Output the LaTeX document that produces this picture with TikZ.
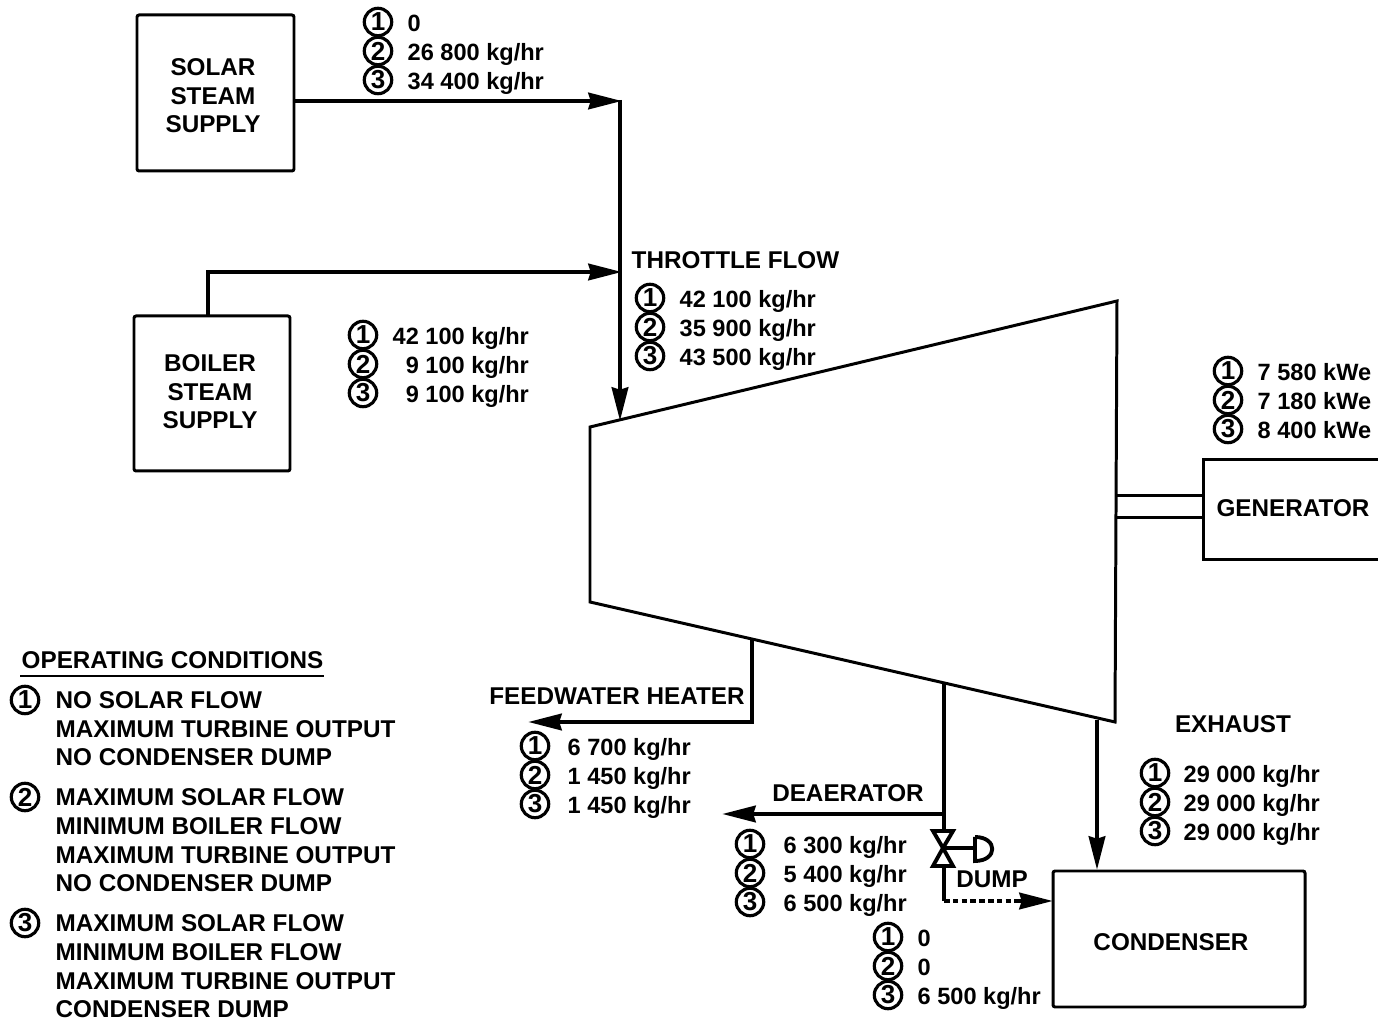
\documentclass[tikz,border=0pt]{standalone}
\usepackage{fontspec}
\setmainfont{Liberation Sans}
\usetikzlibrary{arrows.meta, positioning}
\tikzset{
  lbl/.style={font=\fontsize{6.9}{8.1}\selectfont\bfseries, inner sep=0pt},
  flowtxt/.style={font=\fontsize{6.7}{8}\selectfont\bfseries, inner sep=0pt, anchor=base west},
  numcirc/.style={draw, circle, line width=0.9pt, minimum size=7.8pt, inner sep=0pt, font=\fontsize{7.4}{8}\selectfont\bfseries},
  unitbox/.style={draw, line width=0.85pt, rounded corners=0.6pt},
  pipe/.style={line width=1.35pt},
  flowarrow/.style={pipe, -{Stealth[length=9.5pt, width=4.6pt, inset=0.6pt]}},
  thin line/.style={line width=0.85pt}
}
% one set of three numbered flow values, 29 units apart
\newcommand{\flowrows}[7]{%
  \foreach \n/\val [count=\k from 0] in {1/{#5}, 2/{#6}, 3/{#7}} {
    \node[numcirc] (#1c\n) at (#2, {#4-1+29*\k}) {\n};
    \node[flowtxt] (#1t\n) at (#3, {#4+9+29*\k}) {\val};
  }%
}
\begin{document}
\begin{tikzpicture}[x=0.01cm, y=-0.01cm]
  \useasboundingbox (0,0) rectangle (1378,1019);

  \node[unitbox, minimum width=157*0.01cm, minimum height=156*0.01cm] (solar) at (215.5,93) {};
  \node[lbl, align=center] (solartxt) at (213,96) {SOLAR\\STEAM\\SUPPLY};
  \node[unitbox, minimum width=156*0.01cm, minimum height=155*0.01cm] (boiler) at (212,393.5) {};
  \node[lbl, align=center] (boilertxt) at (210,392) {BOILER\\STEAM\\SUPPLY};
  \node[unitbox, minimum width=252*0.01cm, minimum height=136*0.01cm] (condenser) at (1179,939) {};
  \node[lbl] (condensertxt) at (1171,942) {CONDENSER};

  % generator runs off the right edge
  \draw[thin line] (1378,460) -- (1203,460) -- (1203,560) -- (1378,560);
  \node[lbl] (generator) at (1293,508) {GENERATOR};

  % turbine
  \coordinate (tA) at (590,427);
  \coordinate (tB) at (1117,301);
  \coordinate (tC) at (1115,722);
  \coordinate (tD) at (590,602);
  \draw[thin line] (tA) -- (tB) -- (tC) -- (tD) -- cycle;
  \draw[thin line] (1117,496) -- (1203,496);
  \draw[thin line] (1117,518) -- (1203,518);

  % steam lines
  \coordinate (inTop) at (622,101);
  \coordinate (inBoil) at (622,272);
  \coordinate (inEnd) at (620,421);
  \draw[flowarrow] (solar.east |- inTop) -- (inTop);
  \draw[flowarrow] (208,316) -- (208,272) -- (inBoil);
  \draw[flowarrow] (620,100) -- (inEnd);

  % extractions
  \coordinate (fwEnd) at (528,722);
  \draw[flowarrow] (752,640) -- (752,722) -- (fwEnd);
  \coordinate (deaJoin) at (944,814);
  \coordinate (deaEnd) at (722,814);
  \draw[pipe] (944,684) -- (944,831);
  \draw[flowarrow] (deaJoin) -- (deaEnd);
  \draw[flowarrow] (1097,720) -- (1097,870);

  % dump valve
  \coordinate (vlv) at (943,848);
  \draw[line width=1.1pt] (vlv) -- (933,831) -- (953,831) -- cycle;
  \draw[line width=1.1pt] (vlv) -- (933,866) -- (953,866) -- cycle;
  \draw[line width=1.1pt] (vlv) -- (975,848);
  \draw[line width=1.1pt] (975,837) -- (975,861) .. controls (998,861) and (998,837) .. (975,837);
  \coordinate (dumpEnd) at (1053,901);
  \coordinate (dumpCorner) at (944,901);
  \draw[pipe] (944,866) -- (dumpCorner);
  \draw[pipe, dash pattern=on 1.6pt off 0.9pt] (dumpCorner) -- (1020,901);
  \draw[flowarrow] (1016,901) -- (dumpEnd);

  % titles
  \node[lbl, anchor=west] (throttle) at (631,260) {THROTTLE FLOW};
  \node[lbl] (feedwater) at (617,696) {FEEDWATER HEATER};
  \node[lbl] (deaerator) at (848,793) {DEAERATOR};
  \node[lbl] (dump) at (992,879) {DUMP};
  \node[lbl] (exhaust) at (1233,724) {EXHAUST};

  \flowrows{sol}{378}{407}{23}{0}{26 800 kg/hr}{34 400 kg/hr}
  \flowrows{boi}{363}{392}{336}{42 100 kg/hr}{\phantom{4}9 100 kg/hr}{\phantom{4}9 100 kg/hr}
  \flowrows{thr}{650}{679}{299}{42 100 kg/hr}{35 900 kg/hr}{43 500 kg/hr}
  \flowrows{gen}{1228}{1257}{372}{7 580 kWe}{7 180 kWe}{8 400 kWe}
  \flowrows{fwh}{535}{567}{747}{6 700 kg/hr}{1 450 kg/hr}{1 450 kg/hr}
  \flowrows{dea}{750}{783}{845}{6 300 kg/hr}{5 400 kg/hr}{6 500 kg/hr}
  \flowrows{dmp}{888}{917}{938}{0}{0}{6 500 kg/hr}
  \flowrows{exh}{1155}{1183}{774}{29 000 kg/hr}{29 000 kg/hr}{29 000 kg/hr}

  % operating conditions key
  \node[lbl, anchor=west] (opcond) at (21,660) {OPERATING CONDITIONS};
  \draw[thin line] (20,676) -- (324,676);
  \node[numcirc] (key1) at (25,700) {1};
  \node[numcirc] (key2) at (25,797) {2};
  \node[numcirc] (key3) at (25,923) {3};
  \foreach \y/\txt [count=\i] in {700/NO SOLAR FLOW, 729/MAXIMUM TURBINE OUTPUT, 757/NO CONDENSER DUMP,
      797/MAXIMUM SOLAR FLOW, 826/MINIMUM BOILER FLOW, 855/MAXIMUM TURBINE OUTPUT, 883/NO CONDENSER DUMP,
      923/MAXIMUM SOLAR FLOW, 952/MINIMUM BOILER FLOW, 981/MAXIMUM TURBINE OUTPUT, 1009/CONDENSER DUMP}
    \node[lbl, anchor=west] (keyline\i) at (55,\y) {\txt};
\end{tikzpicture}
\end{document}
